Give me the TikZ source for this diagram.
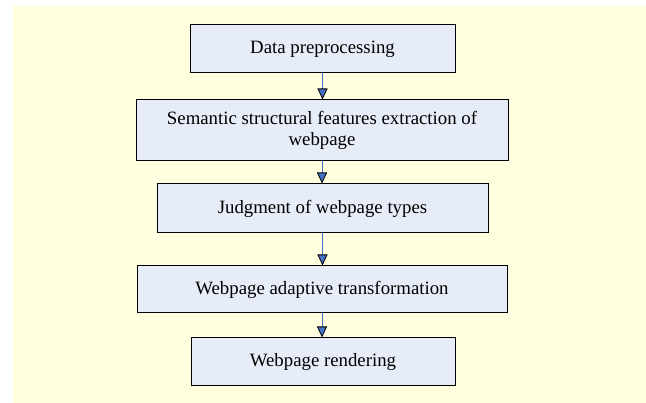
\documentclass[tikz,border=0pt]{standalone}
\usepackage{fontspec}
\setmainfont{Liberation Serif}
\usetikzlibrary{arrows.meta}
\definecolor{bgyellow}{RGB}{255,255,224}
\definecolor{boxfill}{RGB}{230,236,248}
\definecolor{linkblue}{RGB}{68,114,196}
\tikzset{
  stage/.style={draw=black, line width=1pt, fill=boxfill, inner sep=0pt,
    align=center, font=\fontsize{18.8}{20.5}\selectfont},
  link/.style={draw=linkblue, line width=0.8pt,
    -{Triangle[width=10pt, length=11pt, color=black, fill=linkblue, line width=0.8pt]}}
}

\begin{document}
\begin{tikzpicture}[x=1pt, y=-1pt]
\fill[bgyellow] (13,6) rectangle (646,403);
\useasboundingbox (0,0) rectangle (646,403);
\node[stage, minimum width=265pt, minimum height=48pt] (prep) at (322.5,49) {Data preprocessing};
\node[stage, minimum width=372pt, minimum height=61pt] (feat) at (322,130.5)
  {Semantic structural features extraction of\\ webpage};
\node[stage, minimum width=331pt, minimum height=49pt] (judge) at (322.5,208.5) {Judgment of webpage types};
\node[stage, minimum width=370pt, minimum height=47pt] (adapt) at (322,289.5) {Webpage adaptive transformation};
\node[stage, minimum width=264pt, minimum height=48pt] (render) at (323,362) {Webpage rendering};
% arrows between stages
\draw[link] (prep.south) -- (prep.south |- feat.north);
\draw[link] (feat.south) -- (feat.south |- judge.north);
\draw[link] (judge.south) -- (judge.south |- adapt.north);
\draw[link] (adapt.south) -- (adapt.south |- render.north);
\end{tikzpicture}
\end{document}
